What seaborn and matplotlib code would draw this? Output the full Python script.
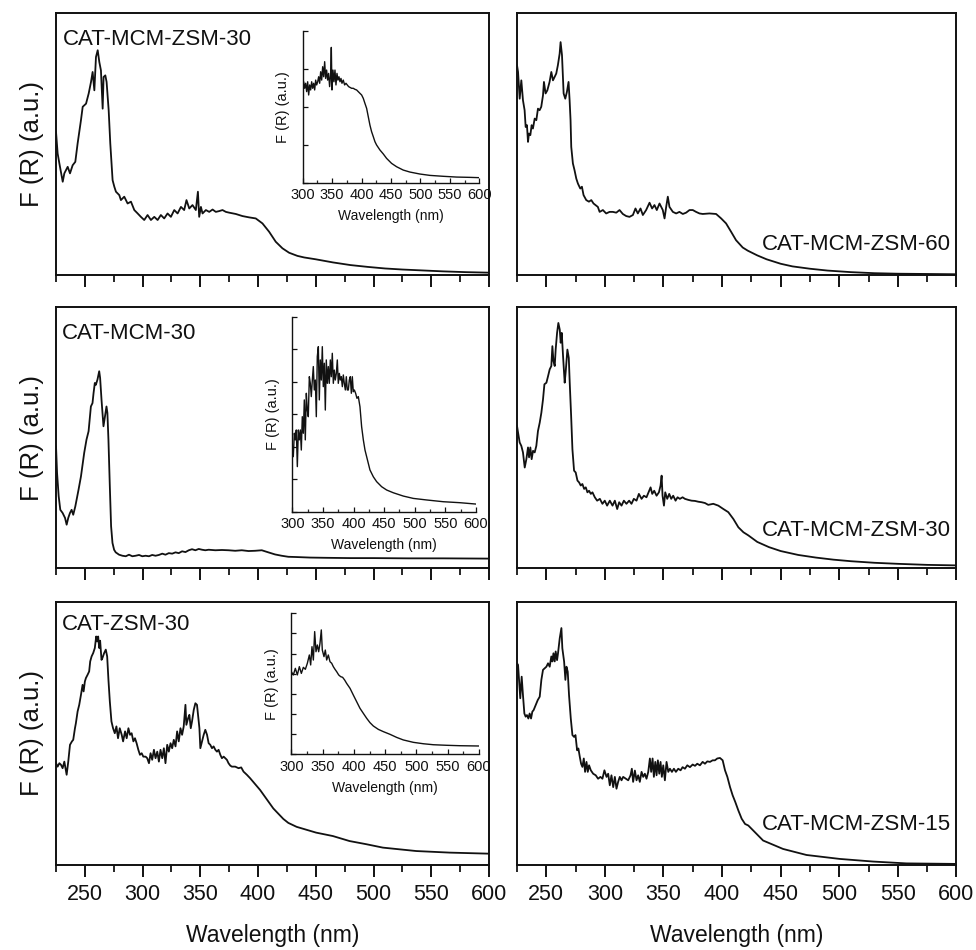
import numpy as np
import matplotlib
matplotlib.use("Agg")
import matplotlib.pyplot as plt
import seaborn as sns

# =========================================================
# 1. SPECTRA (F(R) in % of panel height)
# =========================================================
# top left: CAT-MCM-ZSM-30
tl_wl = [225, 226.4, 227.9, 230.8, 232.2, 235.1, 237.1, 239.4, 241.7, 243.7,
         246.6, 248.1, 251, 253.3, 255.3, 256.7, 258.2, 259.6, 261.1, 262.5,
         263.9, 265.4, 266.2, 267.7, 268.8, 270.6, 272, 274, 275.5, 276.9,
         279.8, 281.2, 284.1, 287, 289.9, 292.8, 295.7, 298.5, 301.4, 304.3,
         307.2, 310.1, 313, 315.8, 318.7, 321.6, 324.5, 327.4, 330.3, 333.2,
         336, 338, 340.4, 343.2, 346.1, 347.9, 349, 350.5, 351.9, 354.8,
         357.7, 360.6, 363.4, 366.3, 369.2, 372.1, 375, 380.7, 386.5, 392.3,
         398, 403.8, 409.6, 415.3, 421.1, 426.9, 434.1, 440, 450, 465,
         480, 495, 510, 525, 540, 560, 580, 600]
tl_fr = [54.6, 46.4, 42.6, 35.6, 38.8, 41.3, 38.8, 41.9, 43.2, 50.2,
         59.1, 64.2, 65.4, 69.3, 73.7, 77.5, 70.5, 83.2, 85.8, 81.3,
         78.1, 63.5, 75.6, 76.2, 73.7, 62.9, 50.2, 36.2, 33.7, 31.8,
         30.5, 28.6, 29.9, 27.3, 28.0, 24.8, 23.5, 22.2, 21.0, 22.9,
         21.0, 22.2, 21.0, 22.9, 21.6, 23.5, 22.2, 24.8, 23.5, 26.0,
         24.8, 28.6, 25.4, 26.7, 24.8, 31.8, 22.2, 26.0, 23.5, 24.8,
         24.1, 25.0, 24.1, 24.4, 24.8, 24.1, 23.8, 23.3, 22.5, 22.0,
         21.6, 19.7, 16.5, 12.7, 10.2, 8.5, 7.3, 6.7, 6.0, 4.8,
         3.8, 3.1, 2.5, 2.1, 1.8, 1.4, 1.1, 0.9]

# top right: CAT-MCM-ZSM-60
tr_wl = [225, 225.9, 227.3, 228.7, 230.1, 231.5, 232.4, 233.5, 234.4, 235.2,
         236.4, 237.5, 238.6, 240.1, 241.5, 242.9, 244.3, 245.7, 247.2, 248,
         249.4, 250.9, 252.8, 254.3, 255.7, 257.1, 258.5, 259.9, 261.4, 262.2,
         263.4, 264.8, 266.2, 267.6, 269, 269.9, 270.7, 271.3, 272.7, 274.1,
         275.6, 277, 279, 280.4, 281.8, 284.1, 286.4, 288.4, 290.3, 292,
         294, 295.5, 298.3, 301.1, 304, 306.8, 309.7, 312.5, 315.3, 318.2,
         321, 323.9, 326.1, 328.1, 330.4, 332.4, 335.2, 338.1, 340.3, 342.3,
         344.3, 346.6, 349.4, 350.9, 352.3, 353.7, 355.1, 358, 360.8, 363.6,
         366.5, 369.3, 372.2, 375, 377.8, 380.7, 383.5, 389.2, 394.9, 399.2,
         403.4, 407.7, 411.9, 417.6, 421.9, 430, 438, 450, 460, 475,
         490, 510, 530, 550, 575, 600]
tr_fr = [80.1, 77.5, 67.3, 74.3, 66.7, 62.9, 56.5, 57.2, 50.8, 54.0,
         53.4, 57.2, 55.9, 59.7, 59.1, 63.5, 62.9, 64.2, 68.6, 73.7,
         69.3, 70.5, 73.7, 77.5, 74.3, 75.6, 76.9, 80.1, 84.5, 88.9,
         83.9, 69.3, 67.3, 69.9, 73.7, 66.7, 59.1, 48.9, 42.6, 40.0,
         36.8, 34.9, 33.0, 33.7, 30.5, 28.6, 28.0, 28.6, 27.3, 26.7,
         26.0, 24.1, 24.8, 23.5, 24.1, 24.1, 23.8, 24.8, 23.3, 22.5,
         22.2, 22.9, 25.4, 23.5, 25.4, 22.9, 24.8, 27.6, 25.4, 26.7,
         24.8, 27.3, 24.8, 21.6, 26.0, 29.9, 26.0, 24.1, 23.5, 24.1,
         23.3, 23.8, 24.8, 24.8, 24.1, 23.5, 23.3, 23.5, 23.3, 21.6,
         19.7, 16.5, 13.3, 10.5, 9.3, 7.5, 6.0, 4.3, 3.3, 2.4,
         1.7, 1.1, 0.7, 0.5, 0.4, 0.3]

# middle left: CAT-MCM-30
ml_wl = [225, 225.9, 227.3, 228.7, 230.7, 232.8, 234.2, 235.6, 237.1, 238.5,
         239.9, 241.7, 243.1, 244.5, 246.6, 248, 249.4, 251.4, 253.2, 255.2,
         256.6, 257.5, 258.6, 259.5, 260.9, 262.4, 263.2, 264.4, 266.1, 267.2,
         268.7, 269.5, 270.4, 271.6, 272.7, 273.9, 275.3, 276.7, 279.6, 282.5,
         285.4, 288.2, 291.1, 294, 296.9, 299.7, 302.6, 305.5, 308.3, 311.2,
         314.1, 317, 319.8, 322.7, 325.6, 328.5, 331.3, 334.2, 337.1, 340,
         342.8, 345.7, 348.6, 351.5, 354.3, 357.2, 363, 368.7, 374.4, 380.2,
         385.9, 391.7, 397.4, 403.2, 408.9, 414.7, 420.4, 426.2, 433.4, 445,
         460, 480, 500, 530, 560, 600]
ml_fr = [46.6, 36.4, 27.5, 22.3, 21.1, 19.2, 16.6, 19.2, 21.1, 22.3,
         20.4, 23.6, 26.8, 30.0, 35.1, 39.6, 44.1, 49.2, 52.4, 61.9,
         63.2, 67.0, 70.9, 70.2, 72.2, 75.4, 72.8, 64.5, 54.3, 57.5,
         61.9, 59.4, 49.2, 31.3, 16.0, 9.6, 7.0, 6.0, 5.1, 4.7,
         4.5, 5.1, 4.5, 4.7, 5.0, 4.5, 4.7, 4.5, 5.0, 4.7,
         5.0, 5.5, 5.1, 5.7, 5.5, 6.0, 5.7, 6.4, 6.1, 6.8,
         7.2, 6.8, 7.3, 7.0, 6.8, 7.0, 6.8, 6.9, 6.8, 6.6,
         6.8, 6.5, 6.6, 6.8, 6.0, 5.2, 4.7, 4.3, 4.2, 4.0,
         3.9, 3.8, 3.8, 3.7, 3.7, 3.6]

# middle right: CAT-MCM-ZSM-30
mr_wl = [225, 225.9, 227.3, 228.7, 230.1, 231.6, 233, 234.4, 235.3, 236.4,
         237.5, 238.7, 240.1, 241.5, 242.9, 244.4, 245.8, 247.2, 248.4, 250.1,
         251.5, 252.9, 254.3, 255.2, 256.1, 257.2, 258, 259.2, 260.3, 261.5,
         262.3, 263.2, 264.3, 265.7, 266.6, 268, 269.2, 270, 271.2, 272.3,
         273.7, 275.1, 276.6, 278, 279.4, 280.8, 282.3, 283.7, 285.1, 286.5,
         288, 289.4, 291.4, 293.4, 295.7, 297.9, 299.9, 301.9, 304.2, 306.5,
         308.5, 310.5, 312.2, 314.2, 316.2, 318.4, 320.7, 322.7, 324.7, 327,
         329, 331.3, 333.3, 335.5, 337.8, 339, 340.4, 342.1, 344.1, 346.1,
         347.5, 348.4, 349.2, 350.4, 351.5, 353.2, 354.9, 356.6, 358.3, 360.3,
         362, 364, 366.3, 368.3, 371.2, 374, 376.9, 379.7, 382.6, 385.4,
         388.2, 392.5, 396.8, 401.1, 405.3, 409.6, 413.9, 418.2, 422.4, 430,
         440, 450, 465, 480, 495, 510, 530, 550, 575, 600]
mr_fr = [54.5, 51.9, 48.1, 46.8, 44.3, 38.5, 41.7, 46.2, 42.4, 46.2,
         41.7, 44.9, 44.3, 46.8, 52.5, 55.7, 59.5, 64.6, 70.4, 71.0,
         73.5, 76.1, 77.4, 85.0, 79.3, 77.4, 83.7, 90.1, 93.9, 91.3,
         86.3, 90.1, 81.2, 71.0, 75.4, 83.7, 80.5, 71.0, 58.3, 45.5,
         37.3, 36.6, 33.5, 32.8, 31.6, 32.2, 30.3, 30.9, 29.0, 29.6,
         28.4, 29.0, 27.1, 25.8, 26.5, 24.6, 25.8, 23.9, 25.8, 23.9,
         25.8, 22.6, 25.2, 23.9, 25.8, 24.6, 25.8, 24.6, 26.5, 25.8,
         28.4, 26.5, 27.7, 27.1, 29.6, 30.9, 28.4, 29.6, 27.7, 29.0,
         31.6, 35.4, 27.7, 23.9, 29.0, 26.5, 28.4, 26.5, 27.7, 25.8,
         27.1, 26.5, 27.1, 26.5, 26.1, 25.8, 25.7, 25.4, 25.2, 24.9,
         24.2, 24.6, 23.9, 22.6, 21.4, 18.8, 15.6, 13.7, 12.5, 10.0,
         8.0, 6.5, 5.0, 4.0, 3.2, 2.6, 2.0, 1.6, 1.2, 1.0]

# bottom left: CAT-ZSM-30
bl_wl = [225, 226.4, 227.9, 229.3, 230.7, 232.2, 234.2, 235.6, 237.1, 238.8,
         239.9, 241.4, 242.2, 243.7, 245.1, 246.6, 248, 248.9, 250, 250.9,
         252.3, 253.7, 254.6, 255.8, 257.2, 258.6, 259.8, 260.6, 261.5, 262.4,
         263.2, 264.4, 265.2, 266.7, 268.1, 269.3, 270.4, 271.6, 273, 274.4,
         275.9, 277.3, 278.7, 280.2, 281.9, 283.1, 284.8, 286.2, 287.7, 289.1,
         290.5, 292, 293.4, 294.8, 296.3, 297.7, 299.2, 300.6, 302.6, 304,
         305.5, 306.9, 308.3, 309.8, 311.2, 312.7, 314.1, 315.5, 317, 318.4,
         319.8, 321.3, 322.7, 324.2, 325.6, 327, 328.5, 329.9, 331.3, 332.8,
         334.2, 335.6, 337.1, 337.9, 339.4, 340.5, 341.7, 342.8, 344.3, 345.7,
         347.1, 348, 349.2, 350, 351.5, 352.9, 354.3, 355.8, 357.2, 358.6,
         360.1, 361.5, 363, 364.4, 365.8, 367.3, 368.7, 370.2, 371.6, 373,
         374.4, 375.9, 377.3, 380.2, 383.1, 385.4, 387.4, 390.3, 393.1, 396,
         398.9, 401.8, 404.6, 407.5, 410.4, 413.2, 417.6, 421.9, 426.2, 433.4,
         450.3, 464.8, 479.2, 493.7, 508.1, 537, 566, 600]
bl_fr = [38.7, 37.4, 38.7, 38.1, 36.8, 39.3, 34.3, 39.3, 45.7, 47.0,
         47.6, 52.0, 53.9, 58.4, 60.9, 64.7, 68.5, 66.0, 69.8, 71.1,
         72.3, 73.6, 77.4, 79.3, 80.6, 82.5, 86.9, 85.0, 86.9, 82.5,
         85.3, 78.0, 78.7, 80.6, 81.9, 79.3, 70.4, 62.2, 54.6, 52.0,
         50.1, 52.7, 48.2, 52.0, 49.5, 47.0, 50.8, 48.2, 52.0, 49.5,
         50.1, 47.0, 48.2, 46.3, 43.8, 41.9, 42.5, 41.2, 41.2, 40.6,
         38.7, 42.5, 40.0, 43.8, 40.6, 43.1, 39.3, 43.8, 40.6, 44.4,
         38.7, 45.7, 43.1, 46.3, 44.4, 47.6, 45.1, 50.8, 47.0, 52.0,
         49.5, 52.7, 60.9, 53.3, 55.8, 57.1, 52.0, 54.6, 59.0, 61.5,
         60.9, 57.1, 52.0, 44.4, 47.0, 49.5, 51.4, 49.5, 46.3, 45.7,
         44.4, 45.1, 43.8, 43.1, 43.8, 41.9, 40.6, 41.2, 40.6, 40.0,
         38.7, 37.8, 37.4, 37.4, 36.8, 37.1, 35.5, 34.3, 33.0, 31.5,
         30.0, 28.5, 26.8, 25.0, 23.2, 21.5, 19.5, 17.5, 16.0, 14.5,
         12.3, 11.0, 9.1, 7.9, 6.6, 5.3, 4.7, 4.3]

# bottom right: CAT-MCM-ZSM-15
br_wl = [225, 225.9, 226.7, 227.8, 229, 230.1, 231.3, 232.4, 233.5, 234.7,
         235.8, 237, 238.1, 239.2, 241, 242.7, 244.4, 245.8, 247.2, 248.6,
         250.1, 251.5, 252.9, 254.3, 255.2, 256.1, 257.2, 258, 259.2, 260,
         261.5, 262.9, 263.7, 265.2, 266.3, 267.2, 268.3, 269.4, 270.9, 272.3,
         273.7, 274.9, 276.3, 277.4, 278.6, 279.7, 280.8, 282, 283.1, 284.3,
         285.4, 286.5, 288, 290, 292.2, 294.2, 296.2, 297.9, 299.6, 301.4,
         302.8, 304.2, 305.6, 307.1, 308.5, 309.9, 311.3, 312.7, 314.2, 315.6,
         317.9, 319.9, 321.9, 323, 324.1, 325.6, 327, 328.4, 329.8, 331.3,
         332.7, 334.1, 335.5, 337, 338.4, 339.5, 340.7, 341.8, 343, 344.1,
         345.2, 346.4, 347.5, 348.6, 349.8, 351.2, 352.6, 354.1, 355.5, 357.2,
         358.9, 360.6, 362.6, 364.6, 366.3, 368.3, 370.3, 372.6, 374.9, 376.9,
         378.8, 381.1, 383.4, 385.4, 387.4, 389.7, 391.9, 393.9, 395.9, 398.2,
         400.5, 402.5, 404.5, 406.8, 409, 411.3, 413.9, 416.7, 419.6, 422.4,
         435, 452, 472, 500.4, 528.9, 557.3, 600]
br_fr = [76.7, 76.1, 71.0, 63.4, 71.6, 64.6, 57.6, 56.4, 57.0, 55.7,
         57.6, 55.7, 58.3, 58.9, 60.8, 62.7, 64.0, 70.4, 74.2, 74.8,
         75.4, 76.7, 75.4, 79.3, 77.4, 80.5, 77.4, 81.2, 77.9, 80.5,
         86.3, 90.1, 82.4, 77.4, 70.4, 75.4, 73.5, 64.6, 55.7, 49.4,
         48.7, 49.4, 43.6, 44.3, 41.1, 38.5, 37.3, 40.5, 35.4, 39.2,
         35.4, 37.9, 36.0, 34.7, 34.1, 32.8, 33.5, 32.8, 36.0, 33.5,
         34.7, 30.3, 34.1, 29.6, 33.5, 29.0, 31.6, 33.5, 32.2, 33.5,
         32.8, 32.2, 34.1, 36.6, 31.6, 35.9, 32.2, 34.1, 31.6, 35.4,
         33.5, 34.7, 32.8, 35.4, 40.5, 35.4, 40.5, 33.5, 39.2, 34.1,
         39.8, 34.7, 39.2, 33.5, 37.9, 32.2, 39.2, 35.4, 36.6, 35.4,
         36.6, 35.4, 36.6, 36.0, 37.2, 36.6, 37.9, 37.2, 38.2, 37.7,
         38.5, 37.9, 39.2, 38.5, 39.4, 39.2, 39.8, 39.8, 40.5, 40.7,
         39.8, 36.0, 33.5, 29.6, 26.5, 23.9, 20.7, 17.6, 15.6, 15.0,
         9.3, 6.1, 3.8, 2.3, 1.3, 0.6, 0.4]

# insets (300-600 nm zoom of the left column)
tli_wl = [300, 301.7, 303.4, 305.1, 306.8, 308.5, 310.2, 311.9, 313.6, 315.3,
          317, 318.7, 320.4, 322.1, 323.8, 325.5, 327.2, 328.9, 330.6, 332.3,
          334, 335.7, 337.4, 339, 340.7, 342.4, 344.1, 345.8, 347.5, 348.7,
          349.8, 351.5, 353.2, 354.9, 356.6, 358.3, 360, 361.7, 363.4, 365.1,
          366.8, 369, 371.3, 373.6, 375.8, 378.1, 380.4, 383.2, 386, 388.9,
          391.7, 394.5, 397.3, 400.2, 403, 405.8, 408.7, 411.5, 414.3, 417.1,
          420, 422.8, 425.6, 431.3, 437, 442.6, 451.1, 459.6, 470.9, 482.2,
          499.2, 516.2, 538.8, 561.5, 584.1, 600]
tli_fr = [61.0, 66.4, 62.1, 65.4, 59.9, 66.4, 57.7, 64.3, 61.0, 66.4,
          62.1, 65.4, 61.0, 67.5, 64.3, 66.4, 69.7, 65.4, 73.0, 67.5,
          76.3, 69.7, 79.6, 68.6, 74.1, 67.5, 71.9, 63.2, 70.8, 89.0,
          61.0, 74.1, 66.4, 74.1, 64.3, 71.9, 67.5, 69.7, 66.4, 68.6,
          65.4, 67.5, 64.3, 65.4, 64.3, 63.2, 62.7, 62.1, 62.1, 61.4,
          61.0, 59.9, 58.8, 57.7, 55.5, 52.2, 48.9, 43.4, 37.9, 33.6,
          30.3, 27.0, 24.8, 21.5, 18.9, 16.0, 12.7, 10.5, 8.3, 7.0,
          5.7, 4.8, 4.2, 3.7, 3.5, 3.3]

mli_wl = [300, 301.6, 303.3, 304.9, 306.5, 308.2, 309.8, 311.4, 313.1, 314.7,
          316.3, 318, 319.6, 321.2, 322.9, 324.5, 326.1, 327.8, 329.4, 331,
          332.7, 334.3, 335.9, 337.6, 339.2, 340.8, 342.5, 344.1, 345.7, 347.4,
          349, 350.6, 352.3, 353.9, 355.5, 357.2, 358.8, 360.4, 362.1, 363.7,
          365.3, 367, 368.6, 370.2, 371.9, 373.5, 375.1, 376.8, 378.4, 380,
          381.7, 383.3, 384.9, 386.6, 388.2, 389.8, 391.5, 393.1, 394.7, 396.4,
          398, 399.6, 401.3, 403.4, 405.6, 407.8, 410.5, 413.2, 416, 418.7,
          421.4, 424.1, 426.8, 432.3, 437.7, 445.9, 454.1, 464.9, 481.3, 497.6,
          519.4, 546.6, 573.8, 600]
mli_fr = [33.3, 28.2, 40.2, 36.8, 41.9, 23.1, 41.9, 36.8, 41.9, 31.6,
          48.7, 40.2, 57.3, 36.8, 60.7, 52.1, 48.7, 69.2, 65.8, 59.0,
          67.5, 74.4, 62.4, 67.5, 48.7, 79.5, 84.6, 57.3, 77.8, 67.5,
          84.6, 64.1, 76.1, 52.1, 77.8, 65.8, 74.4, 65.8, 77.8, 69.2,
          81.2, 65.8, 72.6, 67.5, 70.9, 77.8, 65.8, 70.9, 67.5, 69.2,
          64.1, 70.1, 65.8, 62.4, 69.2, 62.4, 62.4, 67.5, 69.2, 60.7,
          69.2, 61.5, 62.4, 60.7, 58.1, 59.0, 53.8, 43.6, 36.8, 31.6,
          28.2, 24.8, 21.4, 17.9, 15.4, 12.8, 11.1, 9.7, 8.0, 6.8,
          6.0, 5.1, 4.6, 3.9]

bli_wl = [300, 303.2, 306.4, 309.6, 312.8, 316, 319.2, 322.4, 325.6, 328.8,
          330.9, 333, 335.2, 337.3, 339.4, 341.6, 343.7, 345.8, 347.9, 349.5,
          352.2, 354.3, 356.5, 359.1, 361.8, 364.5, 367.1, 369.8, 372.5, 375.7,
          378.8, 382, 385.2, 388.4, 393.8, 399.1, 404.4, 409.7, 415.1, 420.4,
          425.7, 431.1, 439.1, 447.1, 457.7, 468.4, 479, 495, 511, 527,
          548.3, 569.6, 600]
bli_fr = [58.5, 56.2, 60.9, 56.2, 62.1, 57.3, 61.6, 60.2, 64.5, 70.4,
          63.3, 76.3, 66.8, 87.0, 72.7, 77.5, 72.7, 78.7, 88.2, 73.9,
          69.2, 73.9, 66.8, 70.4, 65.6, 64.5, 62.1, 60.2, 58.5, 56.2,
          55.0, 54.5, 52.6, 50.2, 46.7, 41.9, 37.2, 32.5, 28.9, 25.4,
          22.3, 19.9, 17.5, 15.9, 14.0, 11.8, 10.0, 8.3, 7.3, 6.6,
          6.2, 5.9, 5.7]

panel_names = ["CAT-MCM-ZSM-30", "CAT-MCM-ZSM-60", "CAT-MCM-30",
               "CAT-MCM-ZSM-30", "CAT-ZSM-30", "CAT-MCM-ZSM-15"]
x_ticks = [250, 300, 350, 400, 450, 500, 550, 600]
inset_ticks = [300, 350, 400, 450, 500, 550, 600]

# =========================================================
# 2. STYLE
# =========================================================
sns.set_theme(style="ticks")
plt.rcParams['font.family'] = ['Liberation Sans', 'DejaVu Sans']
plt.rcParams['axes.linewidth'] = 1.4
ink = '#111111'
line_kw = dict(color=ink, lw=1.3, estimator=None, sort=False)

fig = plt.figure(figsize=(9.76, 9.5), dpi=100)

col_left = [0.0574, 0.5297]
col_width = [0.4436, 0.4503]
row_bottom = [0.7105, 0.4021, 0.0895]
row_height = [0.2758, 0.2747, 0.2768]

spectra = [(tl_wl, tl_fr), (tr_wl, tr_fr), (ml_wl, ml_fr),
           (mr_wl, mr_fr), (bl_wl, bl_fr), (br_wl, br_fr)]
# where the sample name goes: (x, y, ha) in axes coords
label_pos = [(0.016, 0.878, 'left'), (0.988, 0.095, 'right'),
             (0.013, 0.876, 'left'), (0.988, 0.122, 'right'),
             (0.013, 0.894, 'left'), (0.988, 0.133, 'right')]

# =========================================================
# 3. MAIN PANELS
# =========================================================
for i, (wl, fr) in enumerate(spectra):
    row, col = divmod(i, 2)
    ax = fig.add_axes([col_left[col], row_bottom[row], col_width[col], row_height[row]])
    sns.lineplot(x=wl, y=fr, ax=ax, **line_kw)
    ax.set_xlim(225, 600)
    ax.set_ylim(0, 100)
    ax.set_xticks(x_ticks)
    ax.set_xticks(np.arange(225, 601, 25), minor=True)
    ax.set_yticks([])
    ax.tick_params(axis='x', which='major', direction='out', length=8.5, width=1.4,
                   pad=5, labelsize=15.5, colors=ink)
    ax.tick_params(axis='x', which='minor', direction='out', length=5, width=1.4)
    for s in ax.spines.values():
        s.set_color(ink)
    if row < 2:
        ax.tick_params(axis='x', labelbottom=False)
    else:
        ax.set_xlabel('Wavelength (nm)', fontsize=16.5, labelpad=14, color=ink)
    if col == 0:
        ax.set_ylabel('F (R) (a.u.)', fontsize=18.5, labelpad=9, color=ink)
    else:
        ax.set_ylabel('')
    lx, ly, ha = label_pos[i]
    ax.text(lx, ly, panel_names[i], transform=ax.transAxes, ha=ha, va='baseline',
            fontsize=16, color=ink)

# =========================================================
# 4. INSETS
# =========================================================
insets = [([0.3101, 0.8077, 0.1809, 0.1600], tli_wl, tli_fr, 4),
          ([0.2995, 0.4614, 0.1882, 0.2053], mli_wl, mli_fr, 6),
          ([0.2985, 0.2063, 0.1923, 0.1481], bli_wl, bli_fr, 7)]

for rect, wl, fr, n_y in insets:
    ins = fig.add_axes(rect, facecolor='none')
    sns.lineplot(x=wl, y=fr, ax=ins, color=ink, lw=1.0, estimator=None, sort=False)
    ins.set_xlim(300, 600)
    ins.set_ylim(0, 100)
    ins.set_xticks(inset_ticks)
    ins.set_xticks(np.arange(300, 601, 25), minor=True)
    ins.set_yticks(np.linspace(0, 100, n_y + 1))
    ins.set_yticklabels([])
    ins.spines['top'].set_visible(False)
    ins.spines['right'].set_visible(False)
    for s in ['left', 'bottom']:
        ins.spines[s].set_linewidth(1.0)
        ins.spines[s].set_color(ink)
    ins.tick_params(which='major', direction='in', length=3.5, width=0.9, pad=4,
                    labelsize=10.5, colors=ink)
    ins.tick_params(which='minor', direction='in', length=2, width=0.9)
    ins.set_xlabel('Wavelength (nm)', fontsize=10, labelpad=5, color=ink)
    ins.set_ylabel('F (R) (a.u.)', fontsize=10.5, labelpad=5, color=ink)

plt.savefig("out.png", dpi=100)
plt.close()
